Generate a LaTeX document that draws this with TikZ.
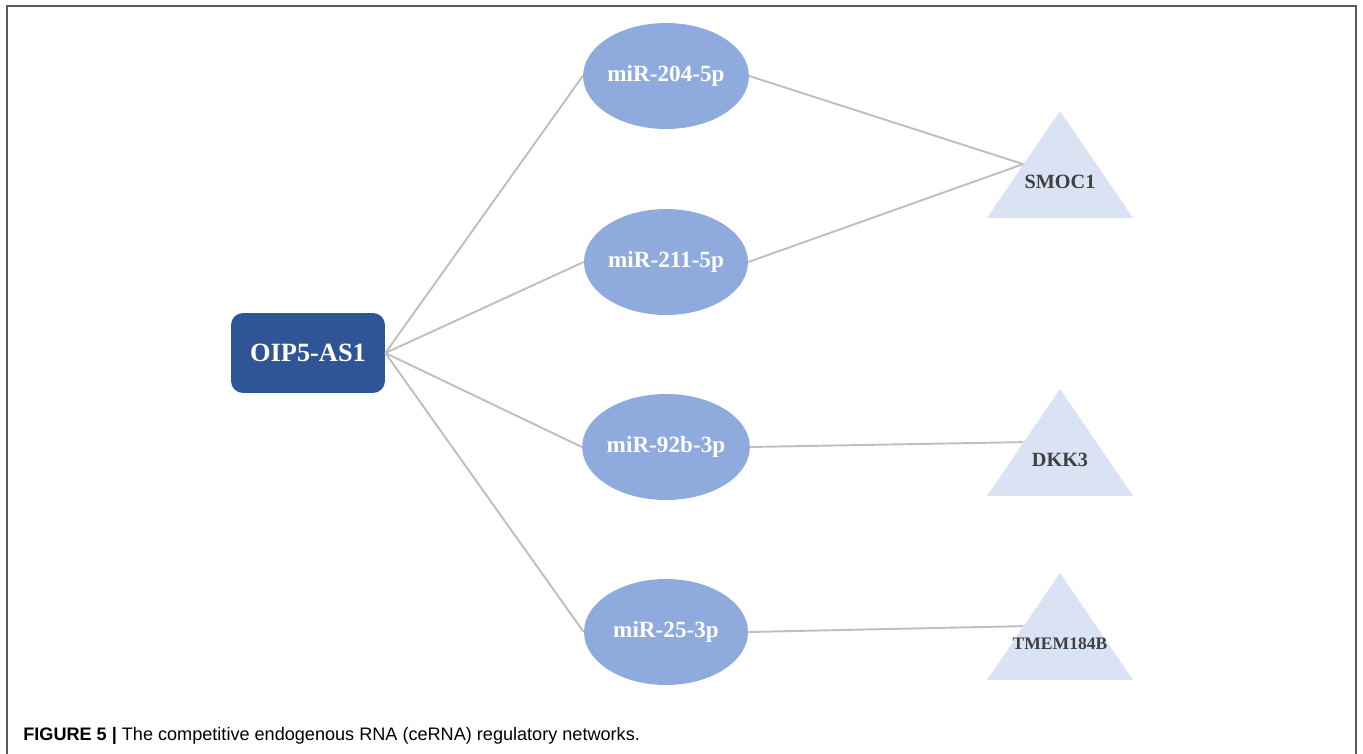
\documentclass[tikz,border=0pt]{standalone}
\usepackage{fontspec}
\setmainfont{Liberation Serif}
\setsansfont{Liberation Sans}
\usetikzlibrary{shapes.geometric,calc}
\definecolor{lnc fill}{HTML}{2F5597}
\definecolor{mir fill}{HTML}{8FAADC}
\definecolor{gene fill}{HTML}{DAE3F3}
\definecolor{gene text}{HTML}{404040}
\definecolor{link line}{HTML}{BFBFBF}
\definecolor{frame edge}{HTML}{595959}
\tikzset{lnc/.style={rectangle, rounded corners=0.24cm, fill=lnc fill,
        minimum width=3.08cm, minimum height=1.6cm, text=white,
        font=\fontsize{15}{18}\selectfont\bfseries},
    mir/.style={ellipse, fill=mir fill, minimum width=3.28cm,
        minimum height=2.12cm, inner sep=0pt, text=white,
        font=\fontsize{13.2}{16}\selectfont\bfseries},
    gene/.style={isosceles triangle, shape border rotate=90,
        isosceles triangle stretches, minimum width=2.92cm,
        minimum height=2.14cm, inner sep=0pt, fill=gene fill},
    genelabel/.style={text=gene text, inner sep=0pt,
        font=\fontsize{11.5}{14}\selectfont\bfseries},
    link/.style={draw=link line, line width=1.1pt},
    frame/.style={draw=frame edge, line width=1.1pt}}

\begin{document}
\begin{tikzpicture}[x=0.02cm, y=-0.02cm]
    \useasboundingbox (0,0) rectangle (1363,754);
    \draw[frame] (7,754) -- (7,6) -- (1356,6) -- (1356,754);

    \node[lnc] (oip) at (308,353) {OIP5-AS1};
    \node[mir] (mir204) at (666,76)  {miR-204-5p};
    \node[mir] (mir211) at (666,262) {miR-211-5p};
    \node[mir] (mir92)  at (666,447) {miR-92b-3p};
    \node[mir] (mir25)  at (666,632) {miR-25-3p};

    \node[gene, anchor=apex] (smoc1) at (1060,110) {};
    \node[gene, anchor=apex] (dkk3)  at (1060,388) {};
    \node[gene, anchor=apex] (tmem)  at (1060,572) {};
    \node[genelabel] at ($(smoc1.apex)!2/3!(smoc1.lower side)$) {SMOC1};
    \node[genelabel] at ($(dkk3.apex)!2/3!(dkk3.lower side)$)  {DKK3};
    \node[genelabel, font=\fontsize{10}{12}\selectfont\bfseries]
      at ($(tmem.apex)!2/3!(tmem.lower side)$) {TMEM184B};

    \foreach \m in {mir204, mir211, mir92, mir25}
      \draw[link] (oip.east) -- (\m.west);
    \draw[link] (mir204.east) -- (smoc1.left side);
    \draw[link] (mir211.east) -- (smoc1.left side);
    \draw[link] (mir92.east)  -- (dkk3.left side);
    \draw[link] (mir25.east)  -- (tmem.left side);

    \node[anchor=base west, inner sep=0pt] (caption) at (23,740)
      {\sffamily\fontsize{10.3}{12}\selectfont\textbf{FIGURE 5 |} The competitive endogenous RNA (ceRNA) regulatory networks.};
\end{tikzpicture}
\end{document}
